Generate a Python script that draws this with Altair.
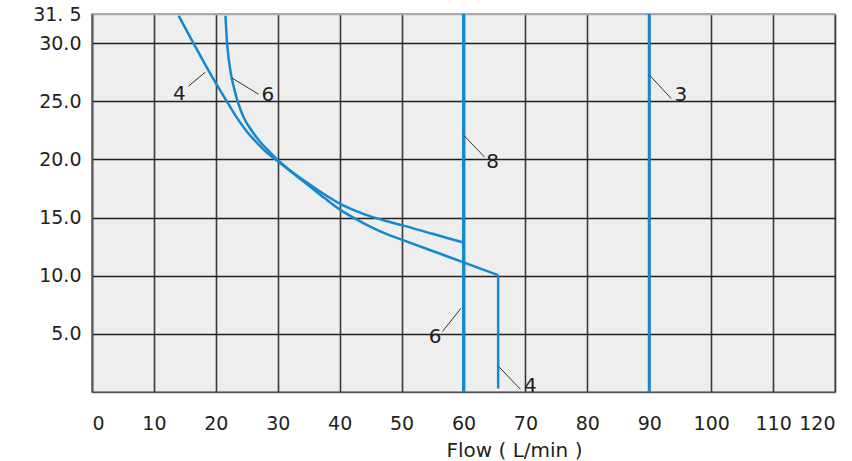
import altair as alt
import pandas as pd

# ---- data ----
# curve "6" (upper at right, ends at x=60)
c6_x = [21.55, 21.75, 21.9, 22.36, 23.0, 23.54, 24.5, 25.5, 26.5, 27.5, 28.5, 30.0, 32.0, 35.0,
        37.5, 40.0, 42.5, 45.0, 47.5, 50.0, 55.0, 60.0]
c6_y = [32.35, 30.5, 29.5, 27.6, 26.0, 24.97, 23.6, 22.7, 21.95, 21.3, 20.75, 19.95, 19.05, 17.9,
        17.0, 16.2, 15.6, 15.1, 14.7, 14.35, 13.6, 12.85]
# curve "4" (lower at right, ends at x=65.6 then drops)
c4_x = [14.0, 16.4, 20.0, 21.8, 23.5, 25.0, 26.5, 28.0, 30.0, 32.0, 35.0, 37.5, 40.0, 42.5,
        45.0, 47.5, 50.0, 55.0, 60.0, 65.6]
c4_y = [32.35, 29.97, 26.55, 24.97, 23.5, 22.4, 21.5, 20.7, 19.85, 19.0, 17.75, 16.7, 15.7, 14.9,
        14.2, 13.6, 13.1, 12.12, 11.15, 10.05]
drop_x = [65.6]
drop_y_top = [10.05]
drop_y_bottom = [0.3]
# vertical flow limits ("6"/"8" at 60, "3" at 90)
vline_x = [60, 90]

# annotation labels and their leader lines
lab_text = ["4", "6", "8", "3", "6", "4"]
lab_x = [14.1, 28.4, 64.7, 95.1, 55.4, 70.8]
lab_y = [25.6, 25.5, 19.77, 25.5, 4.77, 0.52]
lead_x1 = [15.6, 22.6, 60.05, 90.05, 59.6, 65.7]
lead_y1 = [26.3, 27.0, 22.07, 27.24, 7.2, 2.18]
lead_x2 = [18.3, 26.9, 63.4, 93.55, 56.6, 69.2]
lead_y2 = [27.5, 25.6, 20.2, 25.23, 5.2, 0.23]

x_ticks = list(range(0, 121, 10))
y_ticks = [5, 10, 15, 20, 25, 30, 32.5]
y_tick_labels = ["5.0", "10.0", "15.0", "20.0", "25.0", "30.0", "31. 5"]

BLUE = "#1588d2"
INK = "#231f20"
FONT = "DejaVu Sans"

curves = pd.concat([
    pd.DataFrame({"x": c6_x, "y": c6_y, "s": "6", "o": range(len(c6_x))}),
    pd.DataFrame({"x": c4_x, "y": c4_y, "s": "4", "o": range(len(c4_x))}),
])
drop = pd.DataFrame({"x": drop_x, "y": drop_y_top, "y2": drop_y_bottom})
vlines = pd.DataFrame({"x": vline_x, "y": [0] * len(vline_x), "y2": [32.5] * len(vline_x)})
labels = pd.DataFrame({"t": lab_text, "x": lab_x, "y": lab_y})
leaders = pd.DataFrame({"x": lead_x1, "y": lead_y1, "x2": lead_x2, "y2": lead_y2})

label_expr = "{" + ",".join(f"'{v}':'{t}'" for v, t in zip(y_ticks, y_tick_labels)) + "}[''+datum.value]"

xs = alt.Scale(domain=[0, 120], nice=False)
ys = alt.Scale(domain=[0, 32.5], nice=False)

x_axis = alt.Axis(
    values=x_ticks, grid=True, gridColor="#3d3839", gridWidth=1.6,
    ticks=False, domain=True, domainColor="#555", domainWidth=1.5,
    labelFont=FONT, labelFontSize=19, labelColor=INK, labelPadding=22,
    title="Flow ( L/min )", titleFont=FONT, titleFontSize=20, titleFontWeight="normal",
    titleColor=INK, titleX=422, titleY=64, titleAnchor="middle", titleBaseline="alphabetic",
)
y_axis = alt.Axis(
    values=y_ticks, grid=True,
    gridColor={"condition": {"test": "datum.value > 31", "value": "#aaaaaa"}, "value": INK},
    gridWidth=1.4, ticks=False, domain=True, domainColor="#555", domainWidth=1.5,
    labelFont=FONT, labelFontSize=19, labelColor=INK, labelPadding=11,
    labelExpr=label_expr, labelBaseline="middle", title=None,
)

base_x = alt.X("x:Q", scale=xs, axis=x_axis)
base_y = alt.Y("y:Q", scale=ys, axis=y_axis)

curve_layer = alt.Chart(curves).mark_line(color=BLUE, strokeWidth=2.5, interpolate="monotone").encode(
    x=base_x, y=base_y, detail="s:N", order="o:Q"
)
drop_layer = alt.Chart(drop).mark_rule(color=BLUE, strokeWidth=2.5).encode(
    x="x:Q", y="y:Q", y2="y2:Q"
)
vline_layer = alt.Chart(vlines).mark_rule(color=BLUE, strokeWidth=3).encode(
    x="x:Q", y="y:Q", y2="y2:Q"
)
leader_layer = alt.Chart(leaders).mark_rule(color="#333", strokeWidth=1).encode(
    x="x:Q", y="y:Q", x2="x2:Q", y2="y2:Q"
)
text_layer = alt.Chart(labels).mark_text(
    font=FONT, fontSize=20, color=INK, align="center", baseline="middle"
).encode(x="x:Q", y="y:Q", text="t:N")

chart = alt.layer(
    curve_layer, drop_layer, vline_layer, leader_layer, text_layer
).properties(
    width=743, height=378,
    autosize=alt.AutoSizeParams(type="none"),
    padding={"left": 92, "top": 14, "right": 17, "bottom": 69},
    background="white",
).configure_view(
    fill="#eeeeee", stroke="#8f8f8f", strokeWidth=1.5
)

chart.save("out.html", embed_options={"renderer": "svg", "actions": False})
